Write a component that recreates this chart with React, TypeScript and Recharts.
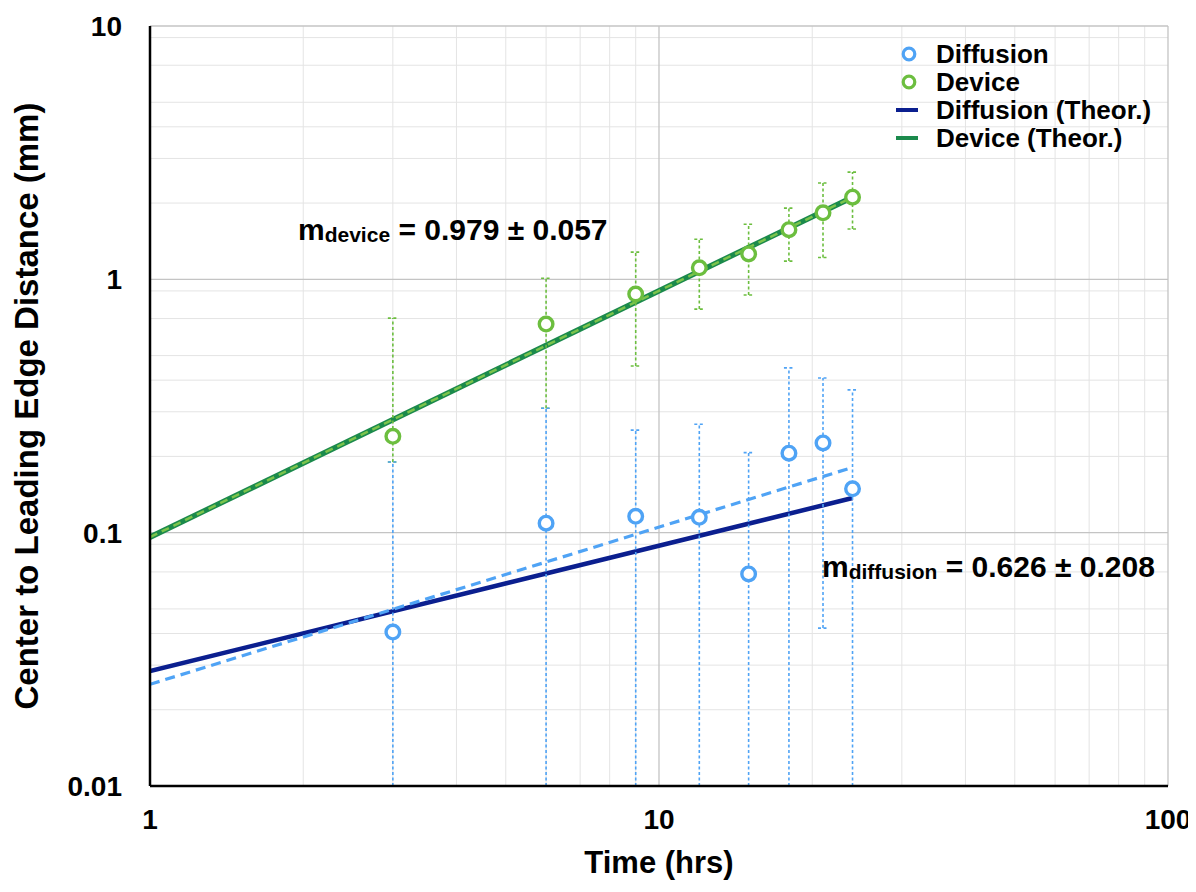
import React from 'react';
import {
  ComposedChart,
  Scatter,
  Line,
  XAxis,
  YAxis,
  CartesianGrid,
  ErrorBar,
} from 'recharts';

// ---- data ----
const timeHrs = [3, 6, 9, 12, 15, 18, 21, 24];

const diffusionVals = [0.0405, 0.109, 0.116, 0.115, 0.0687, 0.206, 0.226, 0.149];
const diffusionUpper = [0.19, 0.31, 0.254, 0.268, 0.207, 0.447, 0.408, 0.366];
const diffusionLower = [0.01, 0.01, 0.01, 0.01, 0.01, 0.01, 0.042, 0.01];

const deviceVals = [0.24, 0.666, 0.875, 1.11, 1.26, 1.57, 1.83, 2.11];
const deviceUpper = [0.703, 1.01, 1.28, 1.44, 1.65, 1.91, 2.4, 2.65];
const deviceLower = [0.19, 0.31, 0.455, 0.763, 0.867, 1.18, 1.22, 1.58];

const lineTimes = [1, 24];
const diffusionTheor = [0.0284, 0.137];
const diffusionFit = [0.0252, 0.181];
const deviceTheor = [0.096, 2.11];
const deviceFit = [0.096, 2.11];

const xTicks = [1, 10, 100];
const yTicks = [0.01, 0.1, 1, 10];
const xMinorGrid = [2, 3, 4, 5, 6, 7, 8, 9, 20, 30, 40, 50, 60, 70, 80, 90];
const xMajorGrid = [10, 100];
const yMinorGrid = [0.02, 0.03, 0.04, 0.05, 0.06, 0.07, 0.08, 0.09, 0.2, 0.3, 0.4, 0.5, 0.6, 0.7, 0.8, 0.9, 2, 3, 4, 5, 6, 7, 8, 9];
const yMajorGrid = [0.1, 1, 10];

const legendItems = [
  { label: 'Diffusion', kind: 'circle', color: '#4FA3F5' },
  { label: 'Device', kind: 'circle', color: '#6CBE3F' },
  { label: 'Diffusion (Theor.)', kind: 'line', color: '#0B1F8F' },
  { label: 'Device (Theor.)', kind: 'line', color: '#1B8A4C' },
];

// ---- colours ----
const C_DIFF = '#4FA3F5';
const C_DEV = '#6CBE3F';
const C_DIFF_TH = '#0B1F8F';
const C_DEV_TH = '#1B8A4C';
const C_DEV_FIT = '#7CC44C';
const FONT = '"Liberation Sans", Arial, Helvetica, sans-serif';

const mkErr = (vals: number[], lo: number[], hi: number[]) =>
  timeHrs.map((x, i) => ({ x, y: vals[i], err: [vals[i] - lo[i], hi[i] - vals[i]] }));
const mkLine = (vals: number[]) => lineTimes.map((x, i) => ({ x, y: vals[i] }));

const diffusionData = mkErr(diffusionVals, diffusionLower, diffusionUpper);
const deviceData = mkErr(deviceVals, deviceLower, deviceUpper);

const makeShape = (color: string) => (props: any) => {
  const { cx, cy } = props;
  if (cx == null || cy == null || isNaN(cx) || isNaN(cy)) return <g />;
  return <circle cx={cx} cy={cy} r={6.8} fill="#fff" stroke={color} strokeWidth={3.4} />;
};

const XTitle = (props: any) => {
  const vb = props.viewBox || { x: 142, y: 778, width: 1018, height: 98 };
  const cx = vb.x + vb.width / 2;
  return (
    <text x={cx} y={vb.y + 87} textAnchor="middle" fill="#000" fontSize={31} fontWeight={700} fontFamily={FONT}>
      Time (hrs)
    </text>
  );
};

const YTitle = (props: any) => {
  const vb = props.viewBox || { x: 0, y: 18, width: 142, height: 760 };
  const cx = vb.x + 30;
  const cy = vb.y + vb.height / 2;
  return (
    <text
      x={cx}
      y={cy}
      transform={`rotate(-90 ${cx} ${cy})`}
      textAnchor="middle"
      fill="#000"
      fontSize={33}
      fontWeight={700}
      fontFamily={FONT}
    >
      Center to Leading Edge Distance (mm)
    </text>
  );
};

const tickStyle = { fill: '#000', fontSize: 28, fontWeight: 700, fontFamily: FONT };

export default function App() {
  return (
    <div style={{ position: 'relative', width: 1188, height: 876, fontFamily: FONT }}>
      <ComposedChart
        width={1188}
        height={876}
        margin={{ top: 18, right: 28, bottom: 0, left: 0 }}
      >
        <CartesianGrid
          stroke="#e4e4e4"
          strokeWidth={1}
          horizontalValues={yMinorGrid}
          verticalValues={xMinorGrid}
        />
        <CartesianGrid
          stroke="#c4c4c4"
          strokeWidth={1.3}
          horizontalValues={yMajorGrid}
          verticalValues={xMajorGrid}
        />
        <XAxis
          dataKey="x"
          type="number"
          scale="log"
          domain={[1, 100]}
          ticks={xTicks}
          allowDataOverflow
          height={98}
          tickLine={false}
          tickSize={6}
          tickMargin={17}
          axisLine={{ stroke: '#000', strokeWidth: 2.5 }}
          tick={tickStyle}
          label={<XTitle />}
        />
        <YAxis
          dataKey="y"
          type="number"
          scale="log"
          domain={[0.01, 10]}
          ticks={yTicks}
          allowDataOverflow
          width={142}
          tickLine={false}
          tickSize={6}
          tickMargin={22}
          axisLine={{ stroke: '#000', strokeWidth: 2.5 }}
          tick={tickStyle}
          tickFormatter={(v: number) => String(v)}
          label={<YTitle />}
        />
        <Line
          data={mkLine(deviceTheor)}
          dataKey="y"
          type="linear"
          stroke={C_DEV_TH}
          strokeWidth={5.5}
          dot={false}
          activeDot={false}
          isAnimationActive={false}
        />
        <Line
          data={mkLine(deviceFit)}
          dataKey="y"
          type="linear"
          stroke={C_DEV_FIT}
          strokeWidth={2.5}
          strokeDasharray="8 5"
          dot={false}
          activeDot={false}
          isAnimationActive={false}
        />
        <Line
          data={mkLine(diffusionTheor)}
          dataKey="y"
          type="linear"
          stroke={C_DIFF_TH}
          strokeWidth={4.5}
          dot={false}
          activeDot={false}
          isAnimationActive={false}
        />
        <Line
          data={mkLine(diffusionFit)}
          dataKey="y"
          type="linear"
          stroke={C_DIFF}
          strokeWidth={3.2}
          strokeDasharray="10 6"
          dot={false}
          activeDot={false}
          isAnimationActive={false}
        />
        <Scatter data={deviceData} dataKey="y" shape={makeShape(C_DEV)} isAnimationActive={false}>
          <ErrorBar dataKey="err" direction="y" width={5} stroke={C_DEV} strokeWidth={1.6} strokeDasharray="3 2.5" />
        </Scatter>
        <Scatter data={diffusionData} dataKey="y" shape={makeShape(C_DIFF)} isAnimationActive={false}>
          <ErrorBar dataKey="err" direction="y" width={5} stroke={C_DIFF} strokeWidth={1.6} strokeDasharray="3 2.5" />
        </Scatter>
      </ComposedChart>

      {/* legend */}
      <div style={{ position: 'absolute', left: 886, top: 32 }}>
        {legendItems.map((it) => (
          <div key={it.label} style={{ display: 'flex', alignItems: 'center', height: 28 }}>
            <svg width={28} height={28} style={{ display: 'block' }}>
              {it.kind === 'circle' ? (
                <circle cx={15} cy={14} r={5.8} fill="#fff" stroke={it.color} strokeWidth={3.2} />
              ) : (
                <line x1={2} y1={14} x2={24} y2={14} stroke={it.color} strokeWidth={4} />
              )}
            </svg>
            <span style={{ marginLeft: 14, fontSize: 26, fontWeight: 700, color: '#000', lineHeight: '28px', whiteSpace: 'nowrap' }}>
              {it.label}
            </span>
          </div>
        ))}
      </div>

      {/* slope annotations */}
      <div style={{ position: 'absolute', left: 290, top: 208, fontSize: 30, fontWeight: 700, lineHeight: '28px', color: '#000', whiteSpace: 'nowrap' }}>
        m<span style={{ fontSize: 21, position: 'relative', top: 2 }}>device</span> = 0.979 ± 0.057
      </div>
      <div style={{ position: 'absolute', left: 814, top: 545, fontSize: 30, fontWeight: 700, lineHeight: '28px', color: '#000', whiteSpace: 'nowrap' }}>
        m<span style={{ fontSize: 21, position: 'relative', top: 2 }}>diffusion</span> = 0.626 ± 0.208
      </div>
    </div>
  );
}
